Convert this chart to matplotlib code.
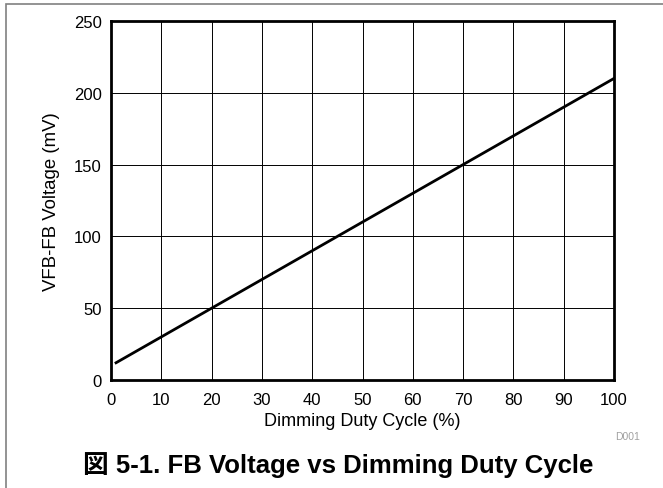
import matplotlib
matplotlib.use('Agg')
import matplotlib.pyplot as plt
from matplotlib.patches import Rectangle

# Datos
duty_cycle = [1, 10, 20, 30, 40, 50, 60, 70, 80, 90, 100]
vfb_mv = [12, 30, 50, 70, 90, 110, 130, 150, 170, 190, 210]
x_ticks = [0, 10, 20, 30, 40, 50, 60, 70, 80, 90, 100]
y_ticks = [0, 50, 100, 150, 200, 250]

plt.rcParams['font.family'] = ['Liberation Sans', 'Noto Sans CJK JP']

W, H = 663, 489
fig = plt.figure(figsize=(W / 100, H / 100), dpi=100)

# marco gris alrededor de la figura (abierto a la derecha y abajo)
fig.patches.append(Rectangle((6 / W, -0.1), 1.2, 1 - 5 / H + 0.1,
                             transform=fig.transFigure, fill=False,
                             edgecolor='#808080', linewidth=1.2))

ax = fig.add_axes([111 / W, 1 - 381 / H, 503 / W, 359 / H])
ax.plot(duty_cycle, vfb_mv, color='black', linewidth=2)

ax.set_xlim(0, 100)
ax.set_ylim(0, 250)
ax.set_xticks(x_ticks)
ax.set_yticks(y_ticks)
ax.tick_params(length=0, labelsize=12)
ax.tick_params(axis='x', pad=8.5)
ax.tick_params(axis='y', pad=6.5)
ax.grid(True, color='black', linewidth=0.7)
for s in ax.spines.values():
    s.set_linewidth(2)

ax.set_xlabel("Dimming Duty Cycle (%)", fontsize=13, va='center')
ax.xaxis.set_label_coords(0.5, (381 - 422) / -359 * -1)
ax.set_ylabel("VFB-FB Voltage (mV)", fontsize=13.4, va='center')
ax.yaxis.set_label_coords((52 - 111) / 503, 0.5)

fig.text(628 / W, 1 - 437 / H, "D001", color='#a0a0a0', fontsize=7.5,
         ha='center', va='center')
fig.text(338 / W, 1 - 465 / H, "図 5-1. FB Voltage vs Dimming Duty Cycle",
         fontsize=18.5, fontweight='bold', ha='center', va='center')

fig.savefig('out.png', dpi=100)
